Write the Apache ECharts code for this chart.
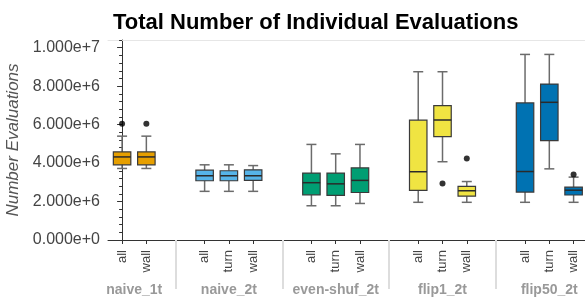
<!DOCTYPE html>
<html>
<head>
<meta charset="utf-8">
<script src="https://cdn.jsdelivr.net/npm/echarts@6/dist/echarts.min.js"></script>
<style>
    html, body { margin: 0; padding: 0; background: #fff; }
    #main { width: 585px; height: 299px; }
</style>
</head>
<body>
<div id="main"></div>
<script>
// groups and their sub-categories (x axis)
var groups = ['naive_1t', 'naive_2t', 'even-shuf_2t', 'flip1_2t', 'flip50_2t'];
var subsets = [
    ['all', 'wall'],
    ['all', 'turn', 'wall'],
    ['all', 'turn', 'wall'],
    ['all', 'turn', 'wall'],
    ['all', 'turn', 'wall']
];

// box statistics, one entry per sub-category, left to right
var lowWhisker  = [3.72e6, 3.72e6, 2.53e6, 2.53e6, 2.53e6, 1.78e6, 1.78e6, 1.90e6, 1.96e6, 4.07e6, 1.96e6, 1.96e6, 3.70e6, 1.96e6];
var q1          = [3.91e6, 3.91e6, 3.08e6, 3.08e6, 3.10e6, 2.35e6, 2.32e6, 2.47e6, 2.58e6, 5.38e6, 2.28e6, 2.49e6, 5.17e6, 2.34e6];
var median      = [4.32e6, 4.32e6, 3.34e6, 3.34e6, 3.34e6, 2.98e6, 2.92e6, 3.10e6, 3.55e6, 6.24e6, 2.56e6, 3.56e6, 7.16e6, 2.59e6];
var q3          = [4.58e6, 4.58e6, 3.63e6, 3.60e6, 3.65e6, 3.48e6, 3.48e6, 3.75e6, 6.23e6, 6.99e6, 2.79e6, 7.13e6, 8.11e6, 2.75e6];
var highWhisker = [5.40e6, 5.40e6, 3.91e6, 3.91e6, 3.87e6, 4.97e6, 4.48e6, 4.97e6, 8.75e6, 8.75e6, 3.04e6, 9.65e6, 9.65e6, 3.27e6];

// outliers: [sub-category index, value]
var outliers = [[0, 6.04e6], [1, 6.04e6], [9, 2.94e6], [10, 4.24e6], [13, 3.41e6]];

var yTicks = [0, 2e6, 4e6, 6e6, 8e6, 1e7];

var groupColors = ['#E69F00', '#56B4E9', '#009E73', '#F0E442', '#0072B2'];

var myChart = echarts.init(document.getElementById('main'));

// x positions: unit step inside a group, wider gap between groups
var groupGap = 2.4;
var xPos = [], xNames = [], xGroup = [], groupCenters = [], separators = [];
var pos = 0;
groups.forEach(function (g, gi) {
    if (gi > 0) {
        separators.push(pos + groupGap / 2);
        pos += groupGap;
    }
    var first = pos;
    subsets[gi].forEach(function (s, si) {
        if (si > 0) pos += 1;
        xPos.push(pos);
        xNames.push(s);
        xGroup.push(gi);
    });
    groupCenters.push((first + pos) / 2);
});

function findIndex(list, v) {
    for (var i = 0; i < list.length; i++) {
        if (Math.abs(list[i] - v) < 1e-6) return i;
    }
    return -1;
}

var boxData = xPos.map(function (x, i) {
    return [x, lowWhisker[i], q1[i], median[i], q3[i], highWhisker[i], xGroup[i]];
});
var outlierData = outliers.map(function (o) {
    return [xPos[o[0]], o[1]];
});

var minorTicks = [];
for (var v = 0.4e6; v <= 10.41e6; v += 0.4e6) {
    var r = Math.round(v / 1e5) * 1e5;
    if (r % 2e6 !== 0) minorTicks.push(r);
}

function renderBox(params, api) {
    var x = api.value(0);
    var pLow = api.coord([x, api.value(1)]);
    var pQ1 = api.coord([x, api.value(2)]);
    var pMed = api.coord([x, api.value(3)]);
    var pQ3 = api.coord([x, api.value(4)]);
    var pHigh = api.coord([x, api.value(5)]);
    var color = groupColors[api.value(6)];
    var half = api.size([0.72, 0])[0] / 2;
    var cap = 5;
    var cx = pMed[0];
    var whisker = { stroke: '#6b6b6b', lineWidth: 1.5 };
    return {
        type: 'group',
        children: [
            { type: 'line', shape: { x1: cx, y1: pHigh[1], x2: cx, y2: pQ3[1] }, style: whisker },
            { type: 'line', shape: { x1: cx, y1: pQ1[1], x2: cx, y2: pLow[1] }, style: whisker },
            { type: 'line', shape: { x1: cx - cap, y1: pHigh[1], x2: cx + cap, y2: pHigh[1] }, style: whisker },
            { type: 'line', shape: { x1: cx - cap, y1: pLow[1], x2: cx + cap, y2: pLow[1] }, style: whisker },
            {
                type: 'rect',
                shape: { x: cx - half, y: pQ3[1], width: half * 2, height: pQ1[1] - pQ3[1] },
                style: { fill: color, stroke: '#3a3a3a', lineWidth: 1.2 }
            },
            { type: 'line', shape: { x1: cx - half, y1: pMed[1], x2: cx + half, y2: pMed[1] }, style: { stroke: '#2a2a2a', lineWidth: 1.5 } }
        ]
    };
}

var fontFamily = '"Liberation Sans", Arial, sans-serif';

var option = {
    animation: false,
    backgroundColor: '#fff',
    title: {
        text: 'Total Number of Individual Evaluations',
        left: 108,
        top: 7,
        textStyle: { fontFamily: fontFamily, fontSize: 22, fontWeight: 'bold', color: '#000' }
    },
    grid: { left: 108, right: 0, top: 40, bottom: 59, containLabel: false, outerBoundsMode: 'none' },
    xAxis: [
        {
            type: 'value',
            min: -0.58,
            max: 19.07,
            splitLine: { show: false },
            axisLine: { lineStyle: { color: '#333', width: 1 } },
            axisTick: { customValues: xPos, length: 4, lineStyle: { color: '#333' } },
            axisLabel: {
                customValues: xPos,
                rotate: 90,
                margin: 10,
                fontFamily: fontFamily,
                fontSize: 13,
                color: '#444',
                formatter: function (val) {
                    var i = findIndex(xPos, val);
                    return i < 0 ? '' : xNames[i];
                }
            }
        },
        {
            type: 'value',
            min: -0.58,
            max: 19.07,
            position: 'bottom',
            offset: 3,
            splitLine: { show: false },
            axisLine: { show: false },
            axisTick: { customValues: separators, length: 49, lineStyle: { color: '#ddd', width: 2 } },
            axisLabel: {
                customValues: groupCenters,
                margin: 40,
                fontFamily: fontFamily,
                fontSize: 14,
                fontWeight: 'bold',
                color: '#999',
                formatter: function (val) {
                    var i = findIndex(groupCenters, val);
                    return i < 0 ? '' : groups[i];
                }
            }
        },
        {
            type: 'value',
            min: -0.58,
            max: 19.07,
            position: 'top',
            splitLine: { show: false },
            axisLine: { lineStyle: { color: '#e6e6e6', width: 1 } },
            axisTick: { show: false },
            axisLabel: { show: false }
        }
    ],
    yAxis: [
        {
            type: 'value',
            min: 0,
            max: 10.4e6,
            interval: 2e6,
            name: 'Number Evaluations',
            nameLocation: 'middle',
            nameGap: 76,
            nameTextStyle: { fontFamily: fontFamily, fontSize: 17, fontStyle: 'italic', color: '#555' },
            splitLine: { show: false },
            axisLine: { show: true, lineStyle: { color: '#333', width: 1 } },
            axisTick: { customValues: yTicks, length: 5, lineStyle: { color: '#333' } },
            axisLabel: {
                customValues: yTicks,
                margin: 8,
                fontFamily: fontFamily,
                fontSize: 16,
                color: '#444',
                formatter: function (val) {
                    return val.toExponential(3);
                }
            }
        },
        {
            type: 'value',
            min: 0,
            max: 10.4e6,
            position: 'left',
            splitLine: { show: false },
            axisLine: { show: false },
            axisTick: { customValues: minorTicks, length: 3, lineStyle: { color: '#333' } },
            axisLabel: { show: false }
        }
    ],
    series: [
        {
            type: 'custom',
            xAxisIndex: 0,
            yAxisIndex: 0,
            renderItem: renderBox,
            encode: { x: 0, y: [1, 2, 3, 4, 5] },
            data: boxData
        },
        {
            type: 'scatter',
            xAxisIndex: 0,
            yAxisIndex: 0,
            symbolSize: 6,
            itemStyle: { color: '#000' },
            data: outlierData
        }
    ]
};
myChart.setOption(option);
</script>
</body>
</html>
